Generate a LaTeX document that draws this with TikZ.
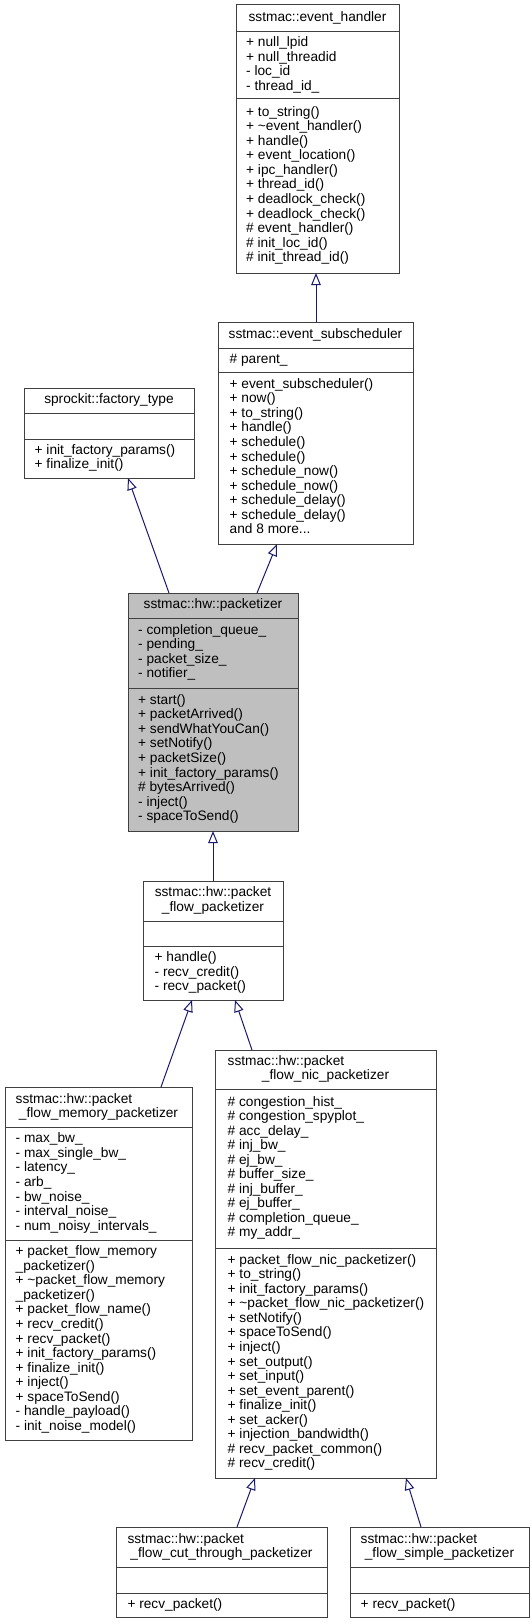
\documentclass[tikz,border=0pt]{standalone}
\usepackage{fontspec}
\setmainfont{Liberation Sans}
\usetikzlibrary{arrows.meta,calc}
\definecolor{edgeblue}{RGB}{25,25,112}
\definecolor{boxgray}{RGB}{64,64,64}
\definecolor{hlgray}{RGB}{191,191,191}
\newcommand\mydots{...}
\tikzset{
  boxst/.style={draw=boxgray, line width=1pt, inner sep=0pt, outer sep=0pt},
  txt/.style={anchor=base west, inner sep=0pt, font=\fontsize{13.7}{14.55}\selectfont},
  ctxt/.style={anchor=base, inner sep=0pt, font=\fontsize{13.7}{14.55}\selectfont},
  inh/.style={draw=edgeblue, line width=1pt, -{Triangle[open,length=12pt,width=9.5pt]}}
}
% name x1 x2 y0 y1 y2 y3 fill
\newcommand\umlbox[8]{%
  \pgfmathsetmacro\bw{#3-#2}\pgfmathsetmacro\bh{#7-#4}%
  \node[boxst, fill=#8, minimum width=\bw pt, minimum height=\bh pt, anchor=north west] (#1) at (#2,#4) {};
  \draw[boxst] (#2,#5) -- (#3,#5) (#2,#6) -- (#3,#6);
}
% name x ytop ybot n list  (left aligned)
\newcommand\comp[6]{%
  \pgfmathsetmacro\cy{(#3+#4)/2-(#5-1)/2*14.55+3}%
  \foreach \t [count=\i] in {#6} {
    \node[txt] (#1-\i) at (#2,\cy+\i*14.55-14.55) {\t};
  }
}
% name xc ytop ybot n list (centered)
\newcommand\ctitle[6]{%
  \pgfmathsetmacro\cy{(#3+#4)/2-(#5-1)/2*14.55+3}%
  \foreach \t [count=\i] in {#6} {
    \node[ctxt] (#1-\i) at (#2,\cy+\i*14.55-14.55) {\t};
  }
}
\begin{document}
\begin{tikzpicture}[x=1pt,y=-1pt]
\useasboundingbox (0,0) rectangle (532,1624);
\fill[white] (0,0) rectangle (532,1624);

% event_handler
\umlbox{eh}{236}{399}{5}{32}{99}{273}{white}
\ctitle{eht}{317.5}{5}{32}{1}{sstmac::event\_handler}
\comp{eha}{246}{32}{99}{4}{+ null\_lpid, + null\_threadid, - loc\_id, - thread\_id\_}
\comp{ehm}{246}{99}{273}{11}{+ to\_string(), + \textasciitilde event\_handler(), + handle(), + event\_location(), + ipc\_handler(), + thread\_id(), + deadlock\_check(), + deadlock\_check(), \# event\_handler(), \# init\_loc\_id(), \# init\_thread\_id()}

% event_subscheduler
\umlbox{sub}{218}{413}{322}{348}{372}{544}{white}
\ctitle{subt}{315.5}{322}{348}{1}{sstmac::event\_subscheduler}
\comp{suba}{229.5}{348}{372}{1}{\# parent\_}
\comp{subm}{229.5}{372}{544}{11}{+ event\_subscheduler(), + now(), + to\_string(), + handle(), + schedule(), + schedule(), + schedule\_now(), + schedule\_now(), + schedule\_delay(), + schedule\_delay(), and 8 more\mydots}

% factory_type
\umlbox{fac}{24}{194}{388}{413}{439}{478}{white}
\ctitle{fact}{109}{388}{413}{1}{sprockit::factory\_type}
\comp{facm}{34.5}{439}{478}{2}{+ init\_factory\_params(), + finalize\_init()}

% packetizer
\umlbox{pk}{128}{298}{593}{618}{688}{831}{hlgray}
\ctitle{pkt}{213}{593}{618}{1}{sstmac::hw::packetizer}
\comp{pka}{138}{618}{688}{4}{- completion\_queue\_, - pending\_, - packet\_size\_, - notifier\_}
\comp{pkm}{138}{688}{831}{9}{+ start(), + packetArrived(), + sendWhatYouCan(), + setNotify(), + packetSize(), + init\_factory\_params(), \# bytesArrived(), - inject(), - spaceToSend()}

% packet_flow_packetizer
\umlbox{pf}{143}{283}{881}{921}{946}{1000}{white}
\ctitle{pft}{213}{881}{921}{2}{sstmac::hw::packet, \_flow\_packetizer}
\comp{pfm}{154.5}{946}{1000}{3}{+ handle(), - recv\_credit(), - recv\_packet()}

% packet_flow_memory_packetizer
\umlbox{mem}{5}{192}{1087}{1127}{1240}{1440}{white}
\node[txt] (memt-1) at (15.5,1103.2) {sstmac::hw::packet};
\node[ctxt] (memt-2) at (98.5,1117.8) {\_flow\_memory\_packetizer};
\comp{mema}{15.5}{1127}{1240}{7}{- max\_bw\_, - max\_single\_bw\_, - latency\_, - arb\_, - bw\_noise\_, - interval\_noise\_, - num\_noisy\_intervals\_}
\comp{memm}{15.5}{1240}{1440}{13}{+ packet\_flow\_memory, \_packetizer(), + \textasciitilde packet\_flow\_memory, \_packetizer(), + packet\_flow\_name(), + recv\_credit(), + recv\_packet(), + init\_factory\_params(), + finalize\_init(), + inject(), + spaceToSend(), - handle\_payload(), - init\_noise\_model()}

% packet_flow_nic_packetizer
\umlbox{nic}{215}{436}{1050}{1089}{1248}{1478}{white}
\node[txt] (nict-1) at (227.5,1065.2) {sstmac::hw::packet};
\node[ctxt] (nict-2) at (325.5,1079.8) {\_flow\_nic\_packetizer};
\comp{nica}{227.5}{1089}{1248}{10}{\# congestion\_hist\_, \# congestion\_spyplot\_, \# acc\_delay\_, \# inj\_bw\_, \# ej\_bw\_, \# buffer\_size\_, \# inj\_buffer\_, \# ej\_buffer\_, \# completion\_queue\_, \# my\_addr\_}
\comp{nicm}{227.5}{1248}{1478}{15}{+ packet\_flow\_nic\_packetizer(), + to\_string(), + init\_factory\_params(), + \textasciitilde packet\_flow\_nic\_packetizer(), + setNotify(), + spaceToSend(), + inject(), + set\_output(), + set\_input(), + set\_event\_parent(), + finalize\_init(), + set\_acker(), + injection\_bandwidth(), \# recv\_packet\_common(), \# recv\_credit()}

% cut_through
\umlbox{ct}{116}{327}{1527}{1567}{1593}{1617}{white}
\node[txt] (ctt-1) at (127.3,1543.2) {sstmac::hw::packet};
\node[ctxt] (ctt-2) at (221.5,1557.8) {\_flow\_cut\_through\_packetizer};
\comp{ctm}{127.3}{1593}{1617}{1}{+ recv\_packet()}

% simple
\umlbox{sim}{350}{529}{1527}{1567}{1593}{1617}{white}
\node[txt] (simt-1) at (360.5,1543.2) {sstmac::hw::packet};
\node[ctxt] (simt-2) at (439.5,1557.8) {\_flow\_simple\_packetizer};
\comp{simm}{360.5}{1593}{1617}{1}{+ recv\_packet()}

% inheritance connectors
\draw[inh] ($(sub.north west)+(98,0)$) -- ($(eh.south west)+(80,0)$);
\draw[inh] ($(pk.north west)+(41,0)$) -- ($(fac.south west)+(104,0)$);
\draw[inh] ($(pk.north west)+(129,0)$) -- ($(sub.south west)+(59,0)$);
\draw[inh] ($(pf.north west)+(70,0)$) -- ($(pk.south west)+(85,0)$);
\draw[inh] ($(mem.north west)+(156,0)$) -- ($(pf.south west)+(49,0)$);
\draw[inh] ($(nic.north west)+(37,0)$) -- ($(pf.south west)+(92,0)$);
\draw[inh] ($(ct.north west)+(121,0)$) -- ($(nic.south west)+(40,0)$);
\draw[inh] ($(sim.north west)+(71,0)$) -- ($(nic.south west)+(191,0)$);
\end{tikzpicture}
\end{document}
